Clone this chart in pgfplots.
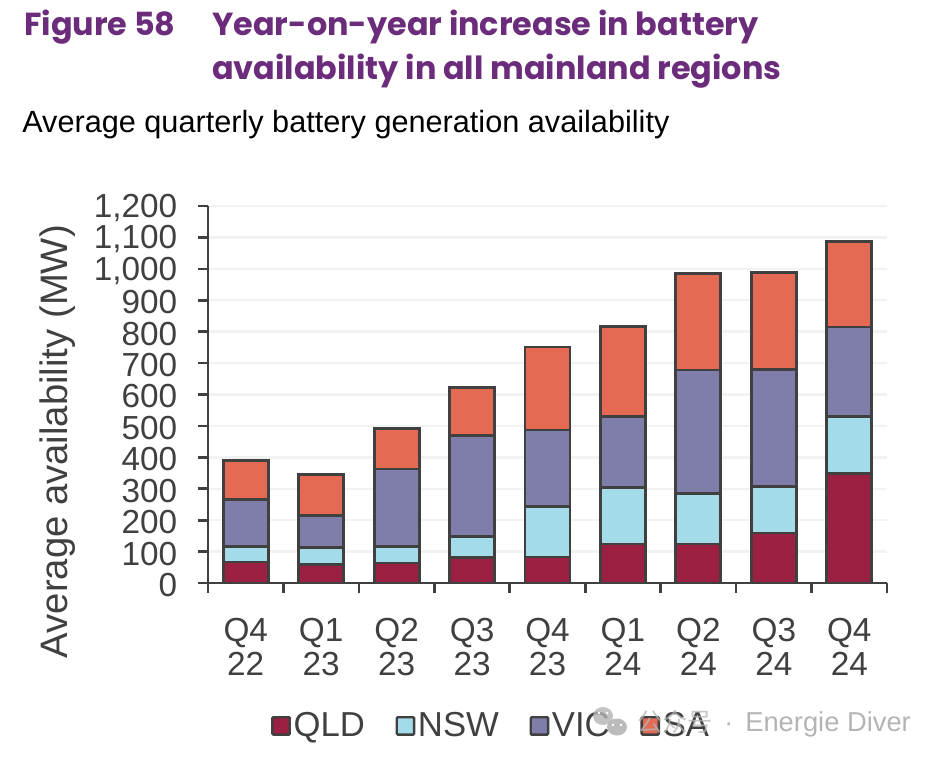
\documentclass[border=0pt]{standalone}
\usepackage{fontspec}
\setmainfont{Liberation Sans}
\newfontfamily\titlefont{Poppins}
\newfontfamily\cjk{Noto Sans CJK SC}
\usepackage{pgfplots}
\pgfplotsset{compat=1.18}
\definecolor{qld}{HTML}{9B2042}
\definecolor{nsw}{HTML}{A3DCE8}
\definecolor{vic}{HTML}{7F7EAB}
\definecolor{sa}{HTML}{E46A53}
\definecolor{edge}{HTML}{404040}
\definecolor{headline}{HTML}{6C2C7C}
\definecolor{wm}{HTML}{B4B4B4}
\begin{document}
\begin{tikzpicture}
  % picture is laid out in reference pixels, 1px = 0.75pt, y downwards
  \begin{scope}[x=0.75pt,y=-0.75pt]
    \useasboundingbox (0,0) rectangle (942,760);
    \node[anchor=base west,inner sep=0,text=headline,font=\titlefont\bfseries\fontsize{23.9pt}{23.9pt}\selectfont] at (24,36) {Figure 58};
    \node[anchor=base west,inner sep=0,text=headline,font=\titlefont\bfseries\fontsize{23.9pt}{23.9pt}\selectfont] at (212,36) {Year-on-year increase in battery};
    \node[anchor=base west,inner sep=0,text=headline,font=\titlefont\bfseries\fontsize{23.9pt}{23.9pt}\selectfont] at (212,79) {availability in all mainland regions};
    \node[anchor=base west,inner sep=0,font=\fontsize{23pt}{23pt}\selectfont] at (22,132) {Average quarterly battery generation availability};
  \end{scope}
  \begin{axis}[
    at={(156pt,-437.25pt)},
    anchor=south west,
    scale only axis,
    width=509.25pt,
    height=282.75pt,
    ybar stacked,
    bar width=33.75pt,
    axis x line=bottom,
    axis y line=left,
    axis line style={edge,line width=2pt,-},
    xmin=-0.5, xmax=8.5,
    ymin=0, ymax=1200,
    xtick={-0.5,0.5,...,8.5},
    xticklabels={{Q4\\22},{Q1\\23},{Q2\\23},{Q3\\23},{Q4\\23},{Q1\\24},{Q2\\24},{Q3\\24},{Q4\\24},{}},
    ytick={0,100,...,1200},
    tick align=outside,
    tick style={edge,line width=2pt},
    major tick length=7.5pt,
    ymajorgrids,
    grid style={draw=black!5,line width=1.8pt},
    /pgf/number format/assume math mode=true,
    /pgf/number format/1000 sep={,},
    tick label style={text=edge,font=\fontsize{25pt}{25.5pt}\selectfont},
    xticklabel style={align=center,xshift=28.3pt,yshift=-15.5pt},
    yticklabel style={xshift=-12pt,yshift=-1.5pt},
    ylabel={Average availability (MW)},
    ylabel style={text=edge,font=\fontsize{28.7pt}{28.7pt}\selectfont,at={(axis description cs:-0.221,0.375)},anchor=center},
    legend columns=4,
    legend style={
      at={(0.4175,-0.379)},anchor=center,draw=none,fill=none,
      font=\fontsize{26pt}{26pt}\selectfont,text=edge,
      /tikz/every even column/.style={column sep=21pt},
      inner sep=0pt,
    },
    legend image code/.code={\draw[#1,line width=1.8pt,rounded corners=0.75pt] (0pt,-6.5pt) rectangle (13pt,6.5pt);},
    every axis plot/.append style={draw=edge,line width=2.1pt},
  ]
    \addplot[fill=qld] coordinates {(0,67) (1,60) (2,64) (3,82) (4,83) (5,124) (6,124) (7,159) (8,349)};
    \addplot[fill=nsw] coordinates {(0,50) (1,53) (2,53) (3,66) (4,160) (5,179) (6,160) (7,148) (8,182)};
    \addplot[fill=vic] coordinates {(0,148) (1,102) (2,246) (3,322) (4,244) (5,226) (6,394) (7,372) (8,284)};
    \addplot[fill=sa] coordinates {(0,124) (1,131) (2,130) (3,152) (4,264) (5,288) (6,306) (7,310) (8,271)};
    \legend{QLD,NSW,VIC,SA}
  \end{axis}
  \begin{scope}[x=0.75pt,y=-0.75pt]
    % watermark across the legend
    \fill[wm,opacity=0.8] (603,716) ellipse (10 and 9);
    \fill[wm,opacity=0.9] (617,727) ellipse (10 and 8.5);
    \fill[white] (613,725) circle (1.4) (621,725) circle (1.4) (599,713) circle (1.4) (607,713) circle (1.4);
    \node[anchor=base west,inner sep=0,text=wm,opacity=0.75,font=\cjk\fontsize{19pt}{19pt}\selectfont] at (637,731) {公众号};
    \node[anchor=base west,inner sep=0,text=wm,font=\fontsize{20pt}{20pt}\selectfont] at (724,731) {·};
    \node[anchor=base west,inner sep=0,text=wm,font=\fontsize{20.5pt}{20.5pt}\selectfont] at (745,731) {Energie Diver};
  \end{scope}
\end{tikzpicture}
\end{document}
